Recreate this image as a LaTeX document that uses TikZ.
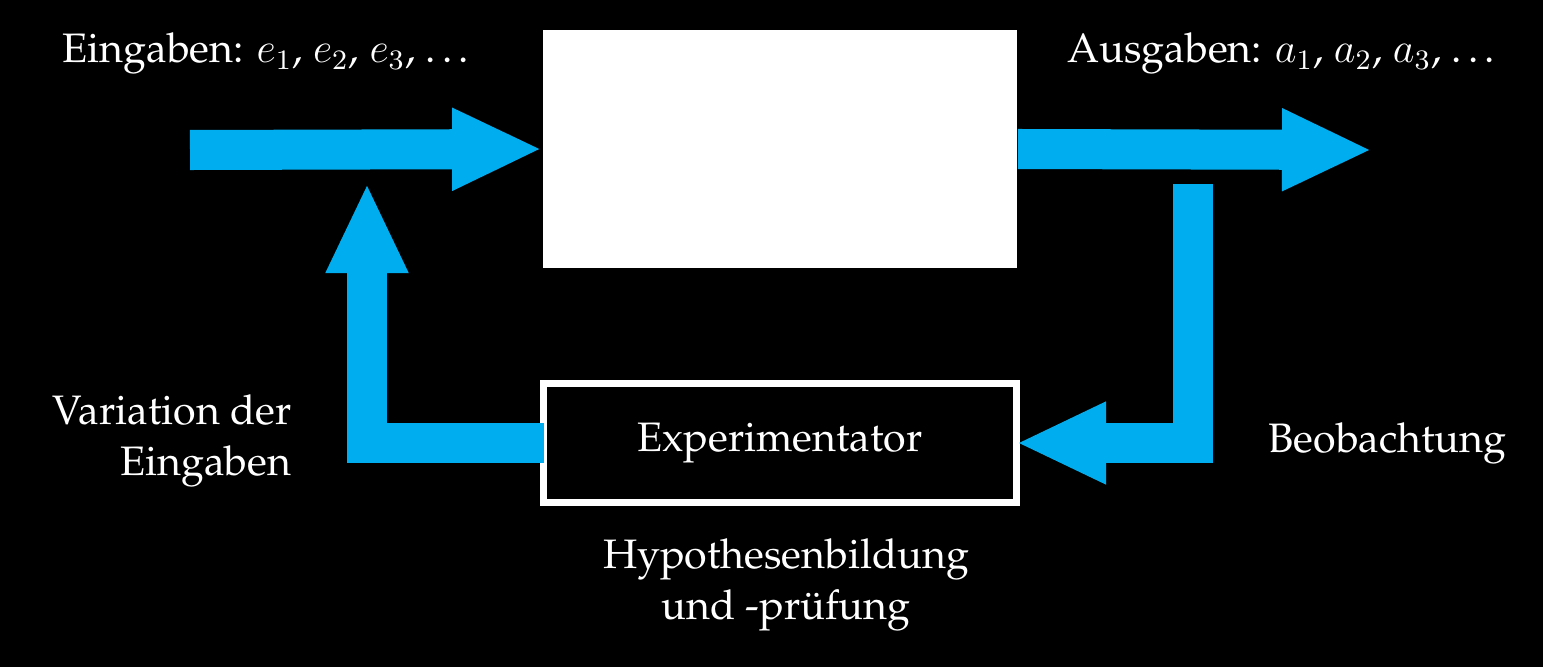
\documentclass[tikz,border=0pt]{standalone}
\usepackage[T1]{fontenc}
\usepackage{palatino}
\usetikzlibrary{arrows.meta}
\definecolor{flowcyan}{RGB}{0,174,239}
\newcommand{\lblfont}{\fontsize{11.7pt}{14.3pt}\selectfont}
\tikzset{
  flow/.style={draw=flowcyan, line width=0.4cm,
    -{Triangle[length=0.9cm, width=0.76cm]}},
  sysbox/.style={fill=white, inner sep=0pt,
    minimum width=4.74cm, minimum height=2.38cm},
  expbox/.style={draw=white, line width=0.07cm, text=white, font=\lblfont,
    outer sep=0pt, minimum width=4.72cm, minimum height=1.19cm},
  lbl/.style={text=white, font=\lblfont, inner sep=0pt},
}

\begin{document}
\begin{tikzpicture}[x=0.01cm, y=-0.01cm]
  % page in pixel units, y going down
  \fill[black] (0,0) rectangle (1543,667);
  \useasboundingbox (0,0) rectangle (1543,667);
  % system and experimenter
  \node[sysbox] (sys) at (780,149) {};
  \node[expbox] (exp) at (780,443) {Experimentator};
  % free ends of the arrows
  \coordinate (ein) at (190,150);
  \coordinate (aus) at (1372,150);
  \coordinate (obs) at (1193,184);
  \coordinate (var) at (367,183);
  \draw[flow] (ein) -- (sys.west);
  \draw[flow] (sys.east) -- (aus);
  \draw[flow] (obs) |- (exp.east);
  \draw[flow] (exp.west) -| (var);
  % labels
  \node[lbl, anchor=base west] (lin) at (62,63) {Eingaben: $e_1$, $e_2$, $e_3$, \dots};
  \node[lbl, anchor=base west] (lout) at (1067,63) {Ausgaben: $a_1$, $a_2$, $a_3$, \dots};
  \node[lbl, anchor=east, align=right] (lvar) at (292,441) {Variation der\\Eingaben};
  \node[lbl, anchor=base west] (lobs) at (1268,452) {Beobachtung};
  \node[lbl, align=center] (lhyp) at (786,585) {Hypothesenbildung\\und -pr\"ufung};
\end{tikzpicture}
\end{document}
